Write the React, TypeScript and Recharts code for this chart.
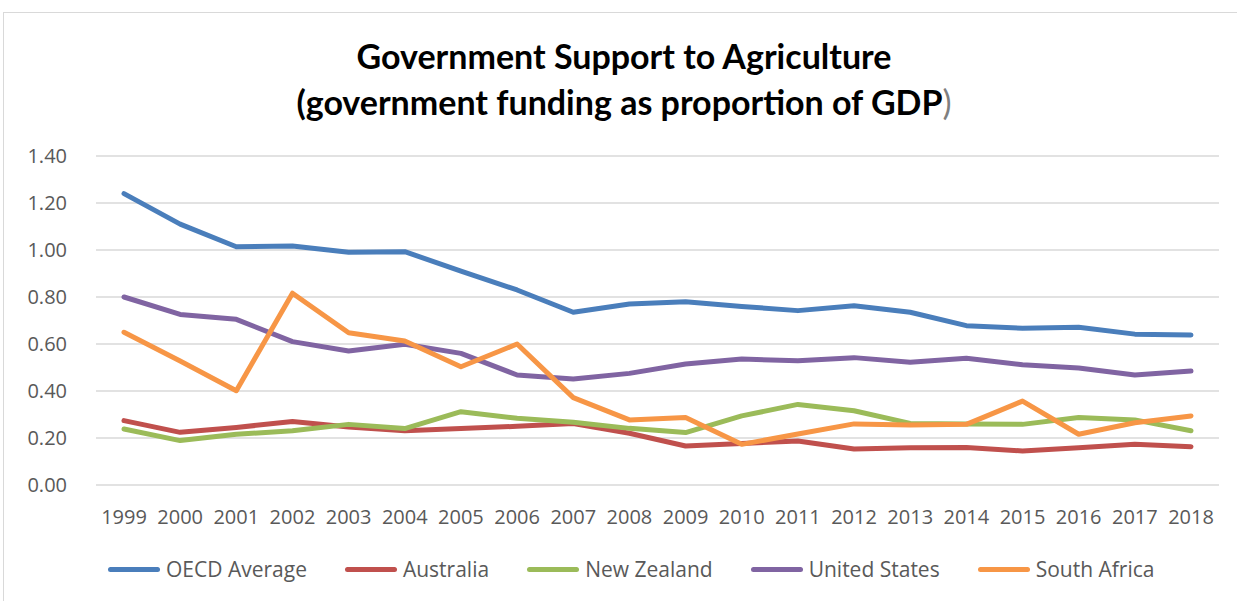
import React from "react";
import { LineChart, Line, XAxis, YAxis, CartesianGrid, Legend } from "recharts";

const years = [
  "1999", "2000", "2001", "2002", "2003", "2004", "2005", "2006", "2007", "2008",
  "2009", "2010", "2011", "2012", "2013", "2014", "2015", "2016", "2017", "2018",
];

const oecdAverage = [
  1.24, 1.11, 1.014, 1.017, 0.99, 0.993, 0.91, 0.83, 0.735, 0.77,
  0.78, 0.76, 0.742, 0.763, 0.735, 0.678, 0.667, 0.671, 0.642, 0.638,
];
const australia = [
  0.274, 0.224, 0.245, 0.27, 0.247, 0.231, 0.24, 0.25, 0.262, 0.22,
  0.166, 0.177, 0.187, 0.153, 0.159, 0.16, 0.145, 0.159, 0.173, 0.163,
];
const newZealand = [
  0.238, 0.189, 0.216, 0.231, 0.258, 0.24, 0.312, 0.284, 0.267, 0.241,
  0.223, 0.294, 0.343, 0.316, 0.262, 0.26, 0.258, 0.287, 0.277, 0.231,
];
const unitedStates = [
  0.8, 0.726, 0.705, 0.61, 0.57, 0.599, 0.56, 0.468, 0.451, 0.475,
  0.515, 0.536, 0.529, 0.542, 0.522, 0.539, 0.512, 0.498, 0.468, 0.485,
];
const southAfrica = [
  0.65, 0.528, 0.401, 0.816, 0.648, 0.613, 0.503, 0.6, 0.372, 0.277,
  0.287, 0.173, 0.217, 0.26, 0.255, 0.258, 0.357, 0.216, 0.265, 0.294,
];

const yTicks = [0, 0.2, 0.4, 0.6, 0.8, 1.0, 1.2, 1.4];

const series = [
  { key: "oecd", name: "OECD Average", values: oecdAverage, color: "#4a7ebb" },
  { key: "aus", name: "Australia", values: australia, color: "#c0504d" },
  { key: "nz", name: "New Zealand", values: newZealand, color: "#9bbb59" },
  { key: "us", name: "United States", values: unitedStates, color: "#8064a2" },
  { key: "sa", name: "South Africa", values: southAfrica, color: "#f79646" },
];

const data = years.map((year, i) => {
  const row: Record<string, string | number> = { year };
  series.forEach((s) => (row[s.key] = s.values[i]));
  return row;
});

const FONT = "'Open Sans', sans-serif";

// keep legend in series order (recharts sorts it by name otherwise)
function LegendRow({ payload }: any) {
  const items = series
    .map((s) => (payload || []).find((p: any) => p.value === s.name))
    .filter(Boolean);
  return (
    <div style={{ height: 52, display: "flex", alignItems: "center", paddingLeft: 104 }}>
      {items.map((p: any) => (
        <div key={p.value} style={{ display: "flex", alignItems: "center", marginRight: 38 }}>
          <div style={{ width: 52, height: 5, background: p.color, borderRadius: 3, marginRight: 6 }} />
          <span style={{ fontFamily: FONT, fontSize: 21, color: "#595959" }}>{p.value}</span>
        </div>
      ))}
    </div>
  );
}

export default function App() {
  return (
    <div
      style={{
        position: "absolute",
        left: 3,
        top: 12,
        width: 1240,
        height: 600,
        border: "1px solid #d9d9d9",
        background: "#fff",
      }}
    >
      <div
        style={{
          position: "absolute",
          left: 0,
          right: 0,
          top: 20,
          textAlign: "center",
          fontFamily: "Lato, sans-serif",
          fontWeight: 700,
          fontSize: 34,
          lineHeight: "46px",
          color: "#000",
          zIndex: 1,
        }}
      >
        <div>Government Support to Agriculture</div>
        <div>
          (government funding as proportion of GDP
          <span style={{ fontWeight: 400, color: "#7f7f7f" }}>)</span>
        </div>
      </div>
      <LineChart
        width={1234}
        height={582}
        data={data}
        margin={{ top: 143, right: 19, bottom: 0, left: 0 }}
      >
        <CartesianGrid vertical={false} stroke="#d9d9d9" strokeWidth={1.3} />
        <XAxis
          dataKey="year"
          axisLine={false}
          tickLine={false}
          tickSize={0}
          tickMargin={25}
          height={58}
          interval={0}
          padding={{ left: 28, right: 28 }}
          tick={{ fontFamily: FONT, fontSize: 20, fill: "#595959" }}
        />
        <YAxis
          domain={[0, 1.4]}
          ticks={yTicks}
          axisLine={false}
          tickLine={false}
          tickSize={0}
          tickMargin={29}
          width={92}
          tickFormatter={(v: number) => v.toFixed(2)}
          tick={{ fontFamily: FONT, fontSize: 20, fill: "#595959" }}
        />
        <Legend verticalAlign="bottom" content={<LegendRow />} />
        {series.map((s) => (
          <Line
            key={s.key}
            dataKey={s.key}
            name={s.name}
            stroke={s.color}
            strokeWidth={5}
            strokeLinejoin="round"
            strokeLinecap="round"
            dot={false}
            activeDot={false}
            isAnimationActive={false}
          />
        ))}
      </LineChart>
    </div>
  );
}
